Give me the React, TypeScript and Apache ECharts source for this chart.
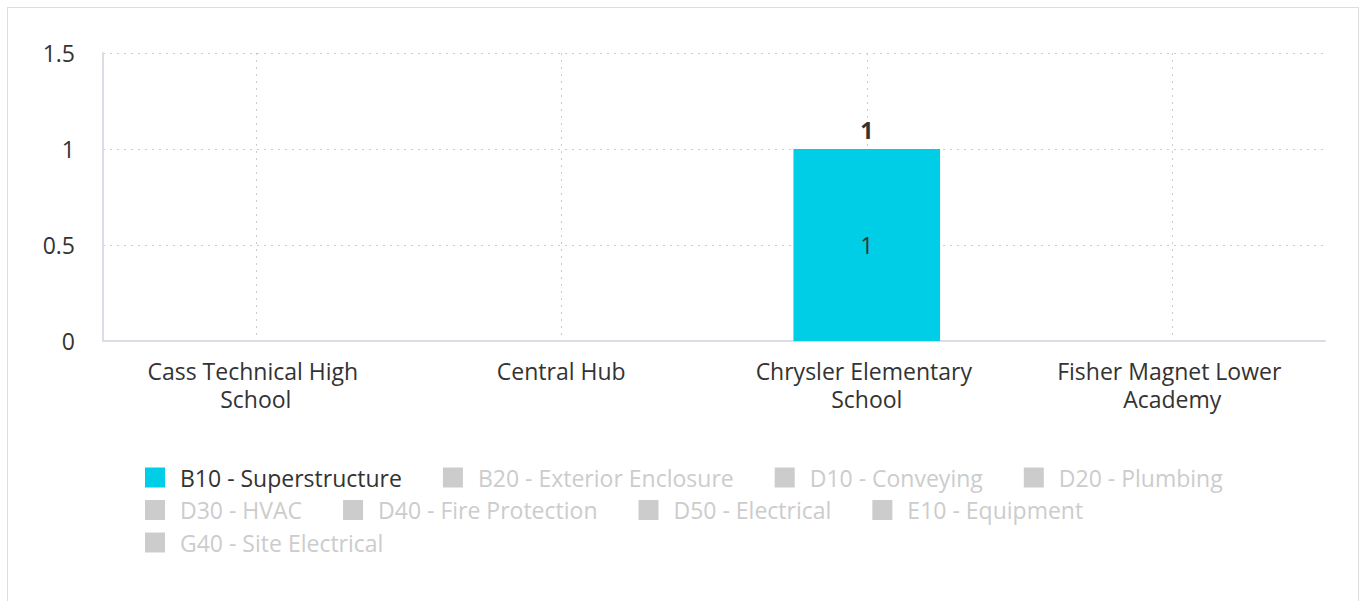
import React, { useEffect, useRef } from "react";
import * as echarts from "echarts";

const categories = [
  "Cass Technical High School",
  "Central Hub",
  "Chrysler Elementary School",
  "Fisher Magnet Lower Academy",
];

const seriesNames = [
  "B10 - Superstructure",
  "B20 - Exterior Enclosure",
  "D10 - Conveying",
  "D20 - Plumbing",
  "D30 - HVAC",
  "D40 - Fire Protection",
  "D50 - Electrical",
  "E10 - Equipment",
  "G40 - Site Electrical",
];

const b10Values = [0, 0, 1, 0];
const b20Values = [0, 0, 0, 0];
const d10Values = [0, 0, 0, 0];
const d20Values = [0, 0, 0, 0];
const d30Values = [0, 0, 0, 0];
const d40Values = [0, 0, 0, 0];
const d50Values = [0, 0, 0, 0];
const e10Values = [0, 0, 0, 0];
const g40Values = [0, 0, 0, 0];

const seriesValues = [
  b10Values,
  b20Values,
  d10Values,
  d20Values,
  d30Values,
  d40Values,
  d50Values,
  e10Values,
  g40Values,
];

const selectedSeries = [true, false, false, false, false, false, false, false, false];

// legend rows as laid out in the reference
const legendRows = [
  [0, 1, 2, 3],
  [4, 5, 6, 7],
  [8],
];

const yTicks = { min: 0, max: 1.5, interval: 0.5 };

const FONT = "'Open Sans', sans-serif";
const TEXT = "#333333";
const FS = 23;

export default function App() {
  const ref = useRef<HTMLDivElement>(null);

  useEffect(() => {
    if (!ref.current) return;
    const chart = echarts.init(ref.current, undefined, { renderer: "svg" });

    const totals = categories.map((_, i) =>
      seriesValues.reduce((s, arr, k) => s + (selectedSeries[k] ? arr[i] : 0), 0)
    );

    const series: any[] = seriesNames.map((name, k) => ({
      name,
      type: "bar",
      stack: "total",
      barWidth: "48%",
      data: seriesValues[k],
      itemStyle: k === 0 ? { color: "#00cde6" } : undefined,
      label: {
        show: true,
        position: "inside",
        color: TEXT,
        fontSize: FS,
        fontFamily: FONT,
        formatter: (p: any) => (p.value ? String(p.value) : ""),
      },
    }));

    series.push({
      name: "Total",
      type: "bar",
      stack: "total",
      barWidth: "48%",
      data: categories.map(() => 0),
      itemStyle: { color: "transparent" },
      label: {
        show: true,
        position: "top",
        distance: 8,
        color: TEXT,
        fontSize: FS,
        fontWeight: "bold",
        fontFamily: FONT,
        formatter: (p: any) => (totals[p.dataIndex] ? String(totals[p.dataIndex]) : ""),
      },
      tooltip: { show: false },
    });

    const legends = legendRows.map((row, r) => {
      const selected: Record<string, boolean> = {};
      row.forEach((k) => (selected[seriesNames[k]] = selectedSeries[k]));
      return {
        data: row.map((k) => seriesNames[k]),
        selected,
        orient: "horizontal",
        left: 132,
        top: 453 + r * 32.5,
        itemWidth: 20,
        itemHeight: 20,
        itemGap: 41,
        icon: "rect",
        inactiveColor: "#cccccc",
        textStyle: {
          color: TEXT,
          fontSize: FS,
          fontFamily: FONT,
          padding: [0, 0, 0, 10],
        },
      };
    });

    const dotted = { type: [2, 5] as any, color: "#cccccc", width: 1 };

    chart.setOption({
      animation: false,
      textStyle: { fontFamily: FONT },
      grid: { left: 95, right: 33, top: 45, bottom: 287, containLabel: false },
      legend: legends,
      xAxis: {
        type: "category",
        data: categories,
        axisLine: { show: true, lineStyle: { color: "#dcdce4", width: 2 } },
        axisTick: { show: false, alignWithLabel: true },
        splitLine: {
          show: true,
          alignWithLabel: true,
          lineStyle: dotted,
        },
        axisLabel: {
          color: TEXT,
          fontSize: FS,
          fontFamily: FONT,
          margin: 16,
          lineHeight: 28,
          width: 255,
          overflow: "break",
          interval: 0,
        },
      },
      yAxis: {
        type: "value",
        min: yTicks.min,
        max: yTicks.max,
        interval: yTicks.interval,
        axisLine: { show: true, lineStyle: { color: "#dcdce4", width: 2 } },
        axisTick: { show: false },
        splitLine: { show: true, lineStyle: dotted },
        axisLabel: { color: TEXT, fontSize: FS, fontFamily: FONT, margin: 28 },
      },
      series,
    });

    return () => chart.dispose();
  }, []);

  return (
    <div
      style={{
        position: "fixed",
        left: 7,
        top: 7,
        width: 1350,
        height: 620,
        border: "1px solid #dddddd",
        background: "#ffffff",
      }}
    >
      <div ref={ref} style={{ width: 1350, height: 620 }} />
    </div>
  );
}
